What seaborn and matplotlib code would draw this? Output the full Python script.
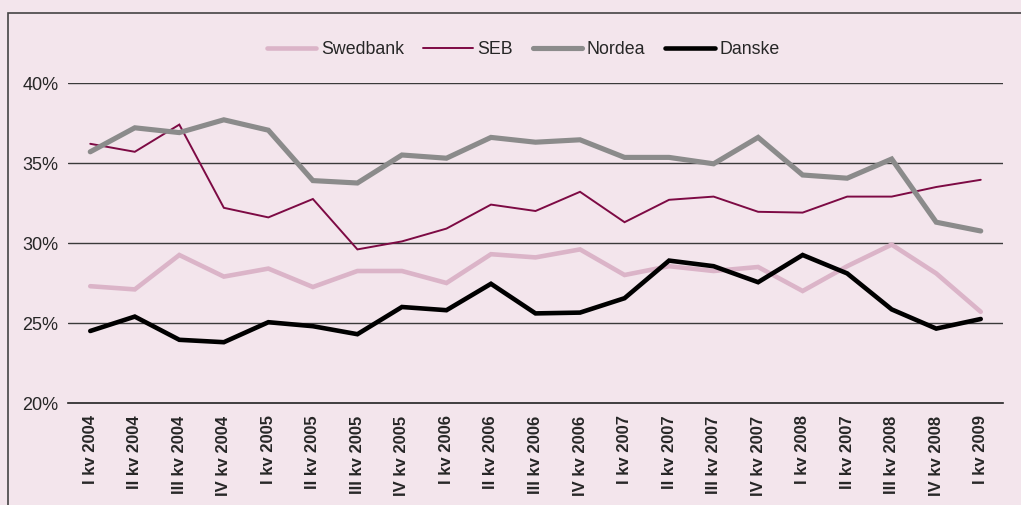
import pandas as pd
import numpy as np
import matplotlib.pyplot as plt
import seaborn as sns
from matplotlib.patches import Rectangle

# quarter labels as printed in the source (incl. the odd "II kv 2007" after I kv 2008)
quarters = ["I kv 2004", "II kv 2004", "III kv 2004", "IV kv 2004",
            "I kv 2005", "II kv 2005", "III kv 2005", "IV kv 2005",
            "I kv 2006", "II kv 2006", "III kv 2006", "IV kv 2006",
            "I kv 2007", "II kv 2007", "III kv 2007", "IV kv 2007",
            "I kv 2008", "II kv 2007", "III kv 2008", "IV kv 2008",
            "I kv 2009"]

swedbank = [27.3, 27.1, 29.25, 27.9, 28.4, 27.25, 28.25, 28.25, 27.5, 29.3, 29.1,
            29.6, 28.0, 28.55, 28.25, 28.5, 27.0, 28.55, 29.9, 28.1, 25.7]
seb = [36.2, 35.7, 37.4, 32.2, 31.6, 32.75, 29.6, 30.1, 30.9, 32.4, 32.0,
       33.2, 31.3, 32.7, 32.9, 31.95, 31.9, 32.9, 32.9, 33.5, 33.95]
nordea = [35.7, 37.2, 36.9, 37.7, 37.05, 33.9, 33.75, 35.5, 35.3, 36.6, 36.3,
          36.45, 35.35, 35.35, 34.95, 36.6, 34.25, 34.05, 35.25, 31.3, 30.75]
danske = [24.5, 25.4, 23.95, 23.8, 25.05, 24.8, 24.3, 26.0, 25.8, 27.45, 25.6,
          25.65, 26.55, 28.9, 28.55, 27.55, 29.25, 28.1, 25.85, 24.65, 25.25]

bg = "#f3e5ec"
styles = {
    "Swedbank": dict(color="#dbb4c8", lw=3.3),
    "SEB": dict(color="#7d0a44", lw=1.4),
    "Nordea": dict(color="#8b8b8b", lw=3.7),
    "Danske": dict(color="#000000", lw=3.3),
}

sns.set_style("white")
plt.rcParams['font.family'] = ['Liberation Sans', 'DejaVu Sans']

fig = plt.figure(figsize=(10.21, 5.05), dpi=100, facecolor=bg)
ax = fig.add_axes([68 / 1021, 1 - 403 / 505, (1003 - 68) / 1021, (403 - 83) / 505])
ax.set_facecolor(bg)

# outer frame (right/bottom edges fall off the canvas)
fig.patches.append(Rectangle((8 / 1021, -0.05), 1.1, 1 - 13 / 505 + 0.05,
                             transform=fig.transFigure, fill=False,
                             edgecolor="#444444", lw=1.2, zorder=0))

x = np.arange(len(quarters))
for name, vals in [("Swedbank", swedbank), ("SEB", seb), ("Nordea", nordea), ("Danske", danske)]:
    sns.lineplot(x=x, y=vals, ax=ax, label=name, color=styles[name]["color"],
                 linewidth=styles[name]["lw"], solid_joinstyle="miter", zorder=3)

ax.set_xlim(-0.5, len(quarters) - 0.5)
ax.set_ylim(20, 40)
ax.set_yticks([20, 25, 30, 35, 40])
ax.set_yticklabels([f"{v}%" for v in [20, 25, 30, 35, 40]], fontsize=13)
ax.set_xticks(x)
ax.set_xticklabels(quarters, rotation=90, fontsize=12, fontweight="bold")
ax.tick_params(axis="x", length=0, pad=9)
ax.tick_params(axis="y", length=0, pad=7)

for v in [25, 30, 35, 40]:
    ax.axhline(v, color="#3a3a3a", lw=1.0, zorder=1)
for s in ["left", "right", "top"]:
    ax.spines[s].set_visible(False)
ax.spines["bottom"].set_color("#222222")
ax.spines["bottom"].set_linewidth(1.2)

leg = ax.legend(loc="center", bbox_to_anchor=(523 / 1021, 1 - 50 / 505), bbox_transform=fig.transFigure,
                ncol=4, frameon=False, fontsize=12.8, handlelength=2.8,
                columnspacing=1.1, handletextpad=0.25)

fig.savefig("out.png", dpi=100, facecolor=bg)
